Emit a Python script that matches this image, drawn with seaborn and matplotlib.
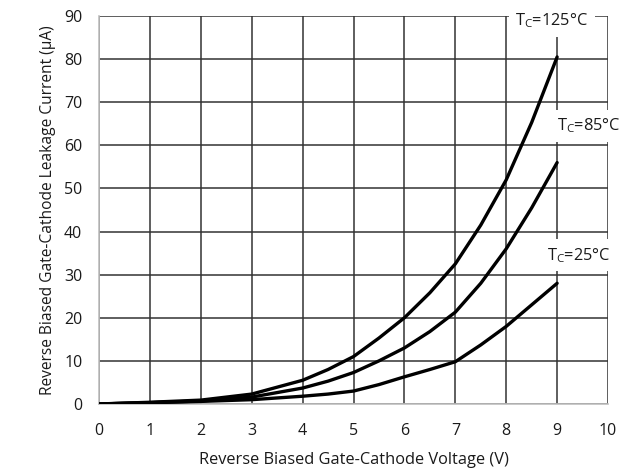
import matplotlib
matplotlib.use("Agg")
import matplotlib.pyplot as plt
import pandas as pd
import seaborn as sns

# Leakage current vs reverse gate-cathode voltage
voltage = [0, 1, 2, 3, 4, 4.5, 5, 5.5, 6, 6.5, 7, 7.5, 8, 8.5, 9]
current_125 = [0, 0.4, 0.9, 2.3, 5.5, 8.0, 11.0, 15.3, 20.0, 25.8, 32.5, 41.5, 52.0, 65.3, 80.5]
current_85 = [0, 0.3, 0.7, 1.6, 3.7, 5.3, 7.3, 10.0, 13.0, 16.8, 21.3, 28.0, 36.0, 45.5, 56.0]
current_25 = [0, 0.3, 0.6, 1.0, 1.8, 2.3, 3.0, 4.5, 6.3, 8.0, 9.8, 13.7, 18.0, 23.0, 28.0]
labels = ["T$_\\mathregular{C}$=125°C", "T$_\\mathregular{C}$=85°C", "T$_\\mathregular{C}$=25°C"]

df = pd.DataFrame({
    "V": voltage * 3,
    "I": current_125 + current_85 + current_25,
    "Tc": ["125"] * len(voltage) + ["85"] * len(voltage) + ["25"] * len(voltage),
})

sns.set_theme(style="white")
plt.rcParams["font.family"] = ["Open Sans", "DejaVu Sans"]
plt.rcParams["mathtext.fontset"] = "custom"
plt.rcParams["mathtext.rm"] = "Open Sans"

fig = plt.figure(figsize=(6.24, 4.72), dpi=100)
ax = fig.add_axes([0.1587, 0.1441, 0.8157, 0.822])

sns.lineplot(data=df, x="V", y="I", hue="Tc", palette=["black"] * 3,
             linewidth=2.4, legend=False, ax=ax, zorder=3)

ax.set_xlim(0, 10)
ax.set_ylim(0, 90)
ax.set_xticks(range(0, 11))
ax.set_yticks(range(0, 91, 10))
ax.grid(True, color="#333333", linewidth=1.1)
ax.set_axisbelow(True)
for side in ["top", "right"]:
    ax.spines[side].set_visible(False)
for side in ["left", "bottom"]:
    ax.spines[side].set_color("#bfbfbf")
    ax.spines[side].set_linewidth(1.2)
ax.tick_params(axis="both", direction="out", length=5, width=1, color="#bfbfbf",
               labelsize=11.5, labelcolor="#1a1a1a", pad=7)
ax.tick_params(axis="x", pad=9)

ax.set_xlabel("Reverse Biased Gate-Cathode Voltage (V)", fontsize=11.8, color="#1a1a1a", labelpad=9)
ax.set_ylabel("Reverse Biased Gate-Cathode Leakage Current (μA)", fontsize=11.2, color="#1a1a1a", labelpad=6)

box = dict(facecolor="white", edgecolor="none", pad=5)
label_pos = [(8.9, 89), (9.63, 64.5), (9.42, 34.5)]
for text, (lx, ly) in zip(labels, label_pos):
    ax.text(lx, ly, text, ha="center", va="center", fontsize=11.8, color="#1a1a1a",
            bbox=box, zorder=4, clip_on=False)

fig.savefig("out.png", dpi=100)
